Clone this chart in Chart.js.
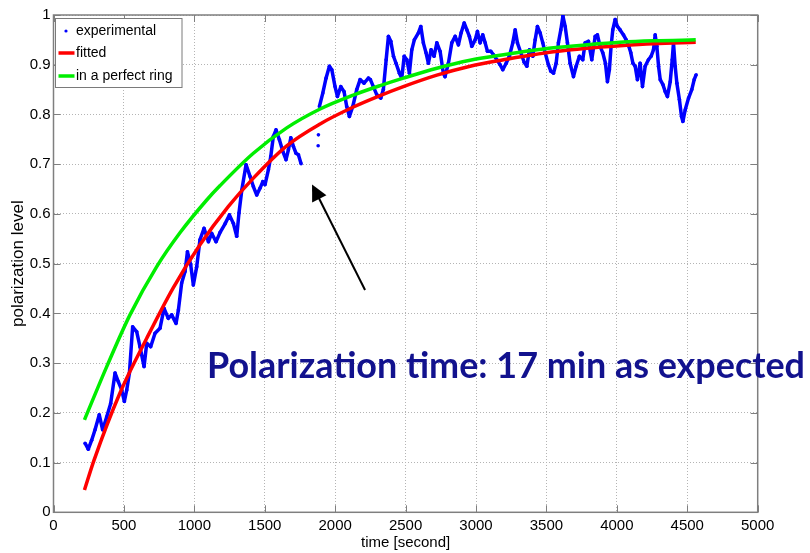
<!DOCTYPE html>
<html>
<head>
<meta charset="utf-8">
<title>Polarization level vs time</title>
<script src="https://cdn.jsdelivr.net/npm/chart.js@4.4.0/dist/chart.umd.min.js"></script>
<style>
  html, body { margin: 0; padding: 0; background: #fff; }
  #wrap { width: 810px; height: 553px; }
</style>
</head>
<body>
<div id="wrap"><canvas id="chart" width="810" height="553"></canvas></div>
<script>
// measured polarization level, time in seconds (null = no data)
const expTime = [
  224, 247, 271, 295, 325, 349, 378, 406, 437, 460, 484, 503, 520, 539, 562, 591, 614, 643, 662, 690,
  721, 756, 785, 815, 839, 870, 887, 910, 934, 951, 974, 993, 1017, 1040, 1069, 1100, 1123, 1154, 1183, 1218,
  1249, 1277, 1301, 1317, 1337, 1367, 1396, 1419, 1443, 1467, 1486, 1502, 1526, 1543, 1561, 1580, 1604, 1628, 1651, 1668,
  1685, 1703, 1722, 1739, 1758, 1800, 1879, 1880, 1881, 1884,
  1888, 1912, 1935, 1959, 1976, 1999, 2016, 2040, 2063, 2082, 2101, 2125, 2153, 2177, 2205, 2236, 2250, 2271, 2295, 2324,
  2342, 2362, 2378, 2395, 2414, 2432, 2456, 2473, 2490, 2509, 2527, 2544, 2562, 2591, 2608, 2626, 2645, 2662, 2681, 2702,
  2722, 2745, 2768, 2780, 2804, 2828, 2852, 2875, 2894, 2916, 2935, 2953, 2970, 2994, 3010, 3029, 3048, 3065, 3081, 3105,
  3124, 3148, 3171, 3190, 3214, 3237, 3261, 3278, 3294, 3318, 3342, 3361, 3379, 3403, 3420, 3436, 3455, 3474, 3491, 3514,
  3531, 3550, 3569, 3585, 3602, 3617, 3633, 3649, 3668, 3692, 3711, 3734, 3758, 3775, 3798, 3822, 3846, 3862, 3881, 3900,
  3919, 3933, 3947, 3959, 3971, 3988, 4004, 4023, 4047, 4066, 4085, 4099, 4114, 4130, 4146, 4165, 4182, 4201, 4224, 4243,
  4260, 4272, 4284, 4296, 4308, 4327, 4343, 4359, 4379, 4393, 4402, 4414, 4426, 4444, 4459, 4469, 4485, 4509, 4532, 4549,
  4563
];
const expLevel = [
  0.139, 0.127, 0.145, 0.166, 0.196, 0.166, 0.192, 0.219, 0.280, 0.263, 0.246, 0.223, 0.246, 0.280, 0.373, 0.363, 0.333, 0.293, 0.340, 0.333,
  0.360, 0.370, 0.410, 0.390, 0.397, 0.380, 0.407, 0.461, 0.484, 0.524, 0.498, 0.457, 0.494, 0.548, 0.571, 0.544, 0.561, 0.544, 0.563, 0.580,
  0.598, 0.581, 0.555, 0.602, 0.648, 0.699, 0.675, 0.655, 0.638, 0.652, 0.665, 0.659, 0.689, 0.716, 0.756, 0.769, 0.749, 0.726, 0.709, 0.729,
  0.753, 0.736, 0.722, 0.719, 0.701, null, 0.737, null, 0.759, null,
  0.816, 0.843, 0.873, 0.897, 0.890, 0.856, 0.836, 0.856, 0.846, 0.816, 0.796, 0.816, 0.850, 0.870, 0.863, 0.873, 0.870, 0.856, 0.840, 0.833,
  0.850, 0.910, 0.957, 0.947, 0.917, 0.903, 0.883, 0.873, 0.917, 0.910, 0.883, 0.930, 0.950, 0.964, 0.977, 0.944, 0.924, 0.903, 0.930, 0.917,
  0.944, 0.927, 0.883, 0.876, 0.903, 0.944, 0.957, 0.940, 0.964, 0.984, 0.970, 0.957, 0.937, 0.950, 0.967, 0.944, 0.960, 0.944, 0.927, 0.927,
  0.920, 0.910, 0.900, 0.890, 0.903, 0.917, 0.944, 0.970, 0.944, 0.924, 0.905, 0.897, 0.930, 0.917, 0.950, 0.977, 0.964, 0.944, 0.924, 0.900,
  0.887, 0.883, 0.903, 0.944, 0.970, 0.998, 0.977, 0.944, 0.903, 0.876, 0.897, 0.917, 0.910, 0.944, 0.947, 0.910, 0.957, 0.960, 0.937, 0.924,
  0.903, 0.866, 0.890, 0.937, 0.970, 0.991, 0.977, 0.970, 0.960, 0.950, 0.937, 0.924, 0.903, 0.897, 0.870, 0.903, 0.856, 0.897, 0.910, 0.917,
  0.930, 0.960, 0.937, 0.897, 0.870, 0.860, 0.846, 0.836, 0.866, 0.910, 0.944, 0.897, 0.863, 0.830, 0.796, 0.786, 0.809, 0.833, 0.850, 0.870,
  0.880
];

// fitted curve
const fitTime = [220, 288, 472, 662, 851, 1040, 1242, 1419, 1656, 1893, 2129, 2319, 2484, 2722, 2958, 3195, 3384, 3550, 3787, 4023, 4260, 4560];
const fitLevel = [0.045, 0.105, 0.240, 0.350, 0.452, 0.538, 0.615, 0.672, 0.737, 0.781, 0.815, 0.838, 0.856, 0.879, 0.897, 0.910, 0.919, 0.926, 0.933, 0.938, 0.942, 0.945];

// expected curve in a perfect ring
const ringTime = [220, 378, 543, 733, 898, 1088, 1183, 1419, 1656, 1893, 2129, 2319, 2484, 2722, 2958, 3195, 3384, 3550, 3787, 4023, 4260, 4560];
const ringLevel = [0.186, 0.293, 0.397, 0.494, 0.562, 0.628, 0.657, 0.722, 0.773, 0.811, 0.839, 0.858, 0.873, 0.893, 0.909, 0.920, 0.928, 0.934, 0.940, 0.945, 0.948, 0.950];

const xTicks = [0, 500, 1000, 1500, 2000, 2500, 3000, 3500, 4000, 4500, 5000];
const yTicks = [0, 0.1, 0.2, 0.3, 0.4, 0.5, 0.6, 0.7, 0.8, 0.9, 1];

// arrow pointing at the gap in the data (data coordinates)
const arrowTip = { x: 1836, y: 0.659 };
const arrowTail = { x: 2212, y: 0.447 };

const toPoints = (xs, ys) => xs.map((x, i) => ({ x: x, y: ys[i] }));

const axisFont = { family: 'Liberation Sans, Arial, sans-serif', size: 15 };

// box around the plot with inward ticks, like a MATLAB axes
const framePlugin = {
  id: 'frame',
  beforeDatasetsDraw(chart) {
    const { ctx, chartArea: a, scales: { x, y } } = chart;
    ctx.save();
    ctx.strokeStyle = '#7f7f7f';
    ctx.lineWidth = 1;
    ctx.beginPath();
    xTicks.forEach(v => {
      const px = Math.round(x.getPixelForValue(v)) + 0.5;
      ctx.moveTo(px, a.bottom); ctx.lineTo(px, a.bottom - 7);
      ctx.moveTo(px, a.top); ctx.lineTo(px, a.top + 7);
    });
    yTicks.forEach(v => {
      const py = Math.round(y.getPixelForValue(v)) + 0.5;
      ctx.moveTo(a.left, py); ctx.lineTo(a.left + 7, py);
      ctx.moveTo(a.right, py); ctx.lineTo(a.right - 7, py);
    });
    ctx.stroke();
    ctx.lineWidth = 1.5;
    ctx.strokeRect(a.left, a.top, a.right - a.left, a.bottom - a.top);
    ctx.restore();
  }
};

// legend box in the upper left corner of the plot
const boxLegendPlugin = {
  id: 'boxLegend',
  afterDatasetsDraw(chart) {
    const { ctx, chartArea: a } = chart;
    const bx = a.left + 2, by = a.top + 3.5, bw = 126.5, bh = 69;
    ctx.save();
    ctx.fillStyle = '#fff';
    ctx.fillRect(bx, by, bw, bh);
    ctx.strokeStyle = '#7a7a7a';
    ctx.lineWidth = 1;
    ctx.strokeRect(bx, by, bw, bh);
    const rows = [by + 12.5, by + 34.5, by + 57.5];
    ctx.font = '14px Liberation Sans, Arial, sans-serif';
    ctx.textBaseline = 'middle';
    chart.data.datasets.forEach((ds, i) => {
      const cy = rows[i];
      if (ds.showMarkerInLegend) {
        ctx.fillStyle = ds.borderColor;
        ctx.beginPath();
        ctx.arc(bx + 10.5, cy, 1.6, 0, Math.PI * 2);
        ctx.fill();
      } else {
        ctx.strokeStyle = ds.borderColor;
        ctx.lineWidth = ds.borderWidth;
        ctx.beginPath();
        ctx.moveTo(bx + 3, cy);
        ctx.lineTo(bx + 19, cy);
        ctx.stroke();
      }
      ctx.fillStyle = '#000';
      ctx.fillText(ds.label, bx + 20.5, cy + 0.5);
    });
    ctx.restore();
  }
};

// annotation: arrow and caption
const notePlugin = {
  id: 'note',
  afterDraw(chart) {
    const { ctx, scales: { x, y } } = chart;
    const tx = x.getPixelForValue(arrowTip.x), ty = y.getPixelForValue(arrowTip.y);
    const sx = x.getPixelForValue(arrowTail.x), sy = y.getPixelForValue(arrowTail.y);
    const len = Math.hypot(sx - tx, sy - ty);
    const ux = (sx - tx) / len, uy = (sy - ty) / len;
    const headL = 16, headW = 8;
    ctx.save();
    ctx.strokeStyle = '#000';
    ctx.fillStyle = '#000';
    ctx.lineWidth = 2;
    ctx.beginPath();
    ctx.moveTo(sx, sy);
    ctx.lineTo(tx + ux * headL * 0.8, ty + uy * headL * 0.8);
    ctx.stroke();
    ctx.beginPath();
    ctx.moveTo(tx, ty);
    ctx.lineTo(tx + ux * headL - uy * headW, ty + uy * headL + ux * headW);
    ctx.lineTo(tx + ux * headL + uy * headW, ty + uy * headL - ux * headW);
    ctx.closePath();
    ctx.fill();

    const caption = 'Polarization time: 17 min as expected';
    ctx.font = '700 36px Lato, "Open Sans", sans-serif';
    ctx.fillStyle = '#12128e';
    ctx.textBaseline = 'alphabetic';
    const w = ctx.measureText(caption).width;
    ctx.translate(207, 378);
    ctx.scale(598 / w, 1);
    ctx.fillText(caption, 0, 0);
    ctx.restore();
  }
};

new Chart(document.getElementById('chart'), {
  type: 'line',
  data: {
    datasets: [
      {
        label: 'experimental',
        data: toPoints(expTime, expLevel),
        borderColor: '#0000ff',
        backgroundColor: '#0000ff',
        borderWidth: 3.5,
        pointRadius: 1.8,
        pointBorderWidth: 0,
        spanGaps: false,
        showMarkerInLegend: true,
        order: 2
      },
      {
        label: 'fitted',
        data: toPoints(fitTime, fitLevel),
        borderColor: '#ff0000',
        borderWidth: 3.5,
        pointRadius: 0,
        cubicInterpolationMode: 'monotone',
        order: 1
      },
      {
        label: 'in a perfect ring',
        data: toPoints(ringTime, ringLevel),
        borderColor: '#00ee00',
        borderWidth: 3.5,
        pointRadius: 0,
        cubicInterpolationMode: 'monotone',
        order: 0
      }
    ]
  },
  options: {
    responsive: false,
    devicePixelRatio: 1,
    animation: false,
    layout: { padding: { left: 0, top: 15, right: 52.3, bottom: 0 } },
    plugins: {
      legend: { display: false },
      tooltip: { enabled: false }
    },
    elements: { line: { borderCapStyle: 'butt', borderJoinStyle: 'round' } },
    scales: {
      x: {
        type: 'linear',
        min: 0,
        max: 5000,
        afterBuildTicks: s => { s.ticks = xTicks.map(v => ({ value: v })); },
        afterFit: s => { s.height = 40.7; },
        grid: { color: '#b4b4b4', lineWidth: 1, drawTicks: false },
        border: { display: false, dash: [1, 2] },
        ticks: {
          color: '#000',
          font: axisFont,
          padding: 5,
          maxRotation: 0,
          callback: v => String(v)
        },
        title: {
          display: true,
          text: 'time [second]',
          color: '#000',
          font: axisFont,
          padding: { top: 0, bottom: 1 }
        }
      },
      y: {
        type: 'linear',
        min: 0,
        max: 1,
        afterBuildTicks: s => { s.ticks = yTicks.map(v => ({ value: v })); },
        afterFit: s => { s.width = 53.5; },
        grid: { color: '#b4b4b4', lineWidth: 1, drawTicks: false },
        border: { display: false, dash: [1, 2] },
        ticks: {
          color: '#000',
          font: axisFont,
          padding: 3,
          callback: v => String(Math.round(v * 10) / 10)
        },
        title: {
          display: true,
          text: 'polarization level',
          color: '#000',
          font: { family: 'Liberation Sans, Arial, sans-serif', size: 17 },
          padding: { top: 8, bottom: 0 }
        }
      }
    }
  },
  plugins: [framePlugin, boxLegendPlugin, notePlugin]
});
</script>
</body>
</html>
